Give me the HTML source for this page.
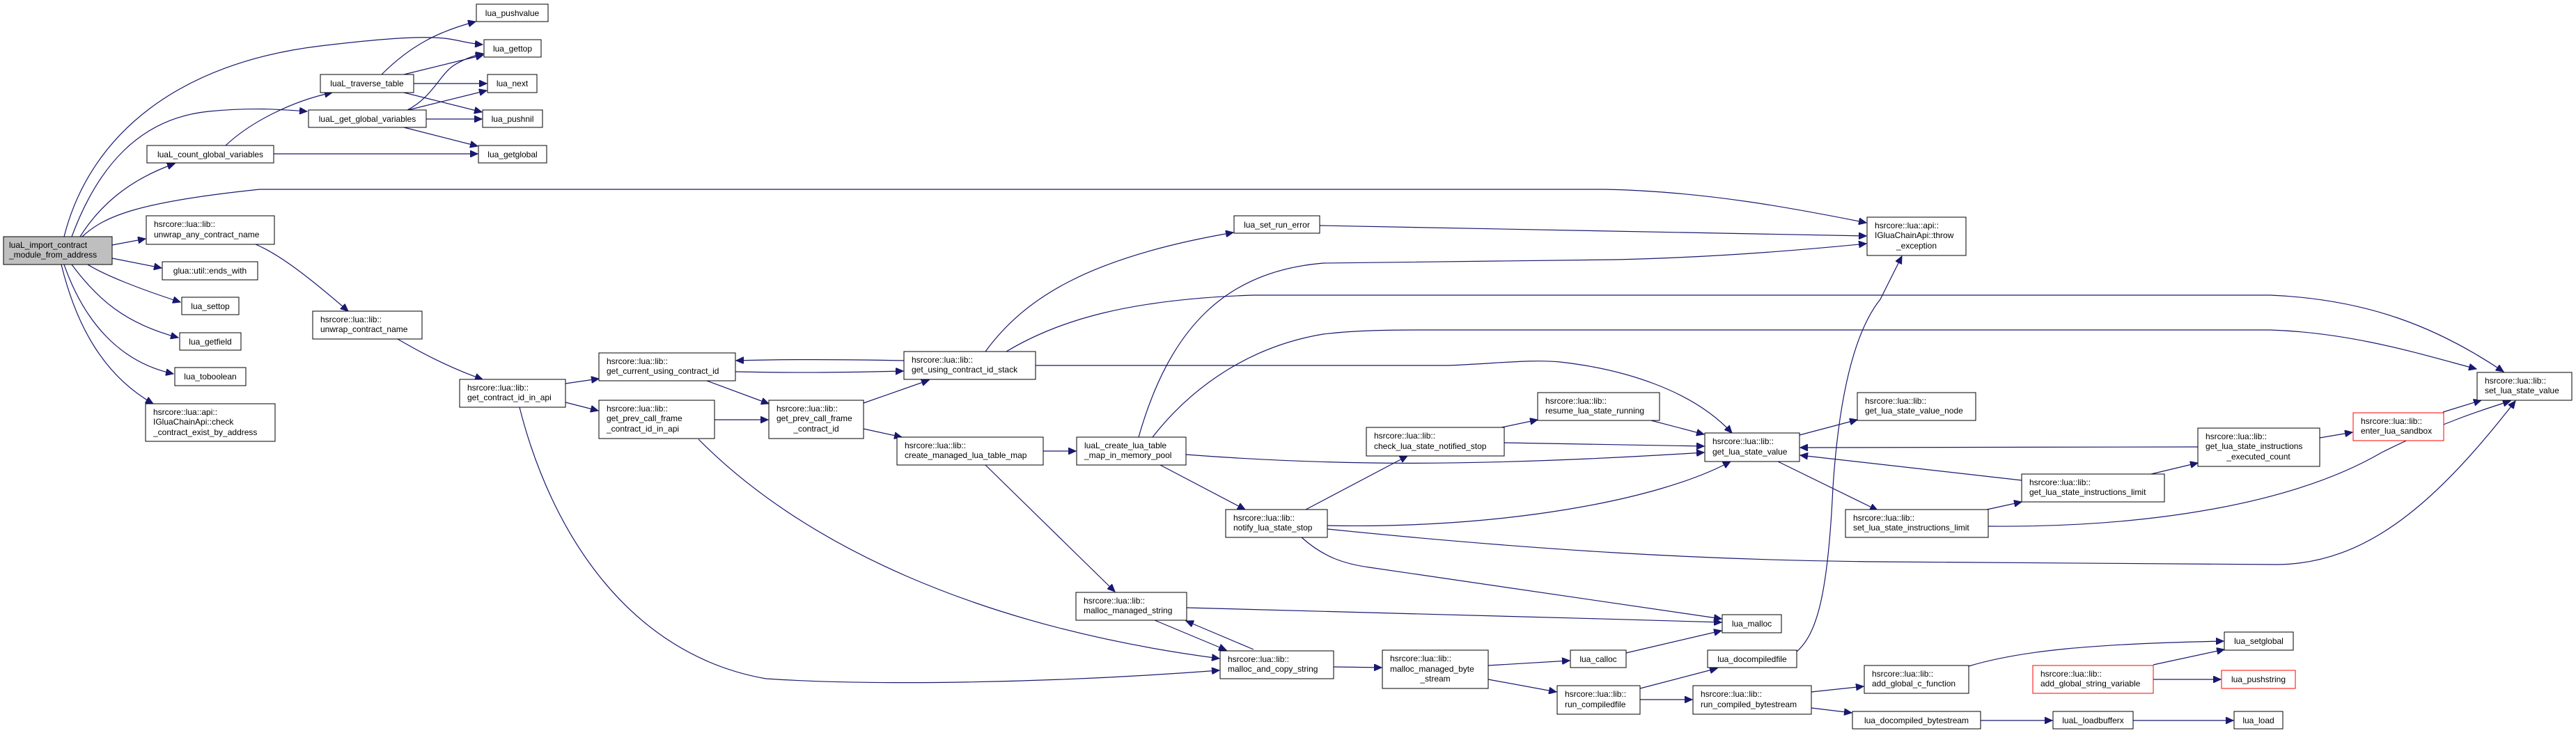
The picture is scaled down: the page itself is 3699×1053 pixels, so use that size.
<!DOCTYPE html>
<html><head><meta charset="utf-8"><style>
html,body{margin:0;padding:0;background:#fff}
svg{display:block}
text{font-family:"Liberation Sans",sans-serif;font-size:12px;fill:#000}
.n{fill:#fff;stroke:#000;stroke-width:1}
.r{fill:#fff;stroke:#f00;stroke-width:1}
.e{fill:none;stroke:#191970;stroke-width:1.2;marker-end:url(#a)}
</style></head><body>
<svg width="3699" height="1053" viewBox="0 0 3699 1053" xmlns="http://www.w3.org/2000/svg">
<defs><marker id="a" markerUnits="userSpaceOnUse" markerWidth="12" markerHeight="10" refX="11" refY="5" orient="auto"><path d="M0,0 L11,5 L0,10 z" fill="#191970" stroke="#191970"/></marker></defs>
<rect width="3699" height="1053" fill="#fff"/>
<!-- edges -->
<path class="e" d="M92,340 C130,190 260,90 460,66 S640,60 693,64"/>
<path class="e" d="M103,340 C140,240 200,170 300,160 C360,154 400,157 441,160"/>
<path class="e" d="M115,340 C140,300 180,260 251,235"/>
<path class="e" d="M118,340 C150,310 200,290 373,272 L2305,272 C2450,275 2580,300 2680,320"/>
<path class="e" d="M161,352 L209,343"/>
<path class="e" d="M161,371 L232,385"/>
<path class="e" d="M126,380 C150,395 200,415 259,434"/>
<path class="e" d="M103,380 C140,430 180,465 256,485"/>
<path class="e" d="M92,380 C120,460 170,520 249,537"/>
<path class="e" d="M88,380 C110,470 150,540 220,580"/>
<path class="e" d="M548,107 C590,65 630,45 683,31"/>
<path class="e" d="M580,107 L694,79"/>
<path class="e" d="M594,120 L699,120"/>
<path class="e" d="M580,133 L692,161"/>
<path class="e" d="M585,158 C620,140 630,110 650,95 C665,85 680,80 694,77"/>
<path class="e" d="M586,158 L699,130"/>
<path class="e" d="M612,171 L692,171"/>
<path class="e" d="M580,183 L686,210"/>
<path class="e" d="M324,209 C360,175 420,145 477,133"/>
<path class="e" d="M393,221 L686,221"/>
<path class="e" d="M367,351 C400,365 440,395 500,447"/>
<path class="e" d="M571,487 C610,510 650,530 693,545"/>
<path class="e" d="M812,551 L860,544"/>
<path class="e" d="M812,578 L859,590"/>
<path class="e" d="M746,585 C790,760 900,940 1100,975 C1250,985 1500,982 1751,963"/>
<path class="e" d="M1056,534 C1150,536 1220,535 1297,533"/>
<path class="e" d="M1298,518 C1200,516 1130,516 1057,518"/>
<path class="e" d="M1015,547 L1104,580"/>
<path class="e" d="M1026,603 L1103,603"/>
<path class="e" d="M1003,631 C1150,780 1400,900 1751,946"/>
<path class="e" d="M1240,579 L1334,546"/>
<path class="e" d="M1240,616 L1295,628"/>
<path class="e" d="M1415,505 C1470,430 1560,370 1771,334"/>
<path class="e" d="M1445,505 C1520,460 1620,430 1800,424 L3260,424 C3400,430 3500,470 3595,534"/>
<path class="e" d="M1487,525 L2080,525 C2150,522 2200,516 2240,520 C2330,530 2430,560 2487,622"/>
<path class="e" d="M1498,648 L1545,648"/>
<path class="e" d="M1415,668 L1601,850"/>
<path class="e" d="M1635,628 C1680,470 1760,390 1900,378 L2320,373 C2450,370 2580,360 2680,350"/>
<path class="e" d="M1655,628 C1700,570 1780,500 1900,480 C1950,474 2000,474 2050,474 L3260,474 C3380,478 3480,510 3556,530"/>
<path class="e" d="M1703,653 C1900,668 2100,672 2447,650"/>
<path class="e" d="M1666,668 L1788,732"/>
<path class="e" d="M1895,324 L2680,339"/>
<path class="e" d="M2156,614 L2208,603"/>
<path class="e" d="M2160,636 L2447,641"/>
<path class="e" d="M2371,604 L2447,624"/>
<path class="e" d="M2584,625 L2667,603"/>
<path class="e" d="M2553,663 L2696,733"/>
<path class="e" d="M2903,690 L2585,654"/>
<path class="e" d="M3156,642 L2585,643"/>
<path class="e" d="M3331,629 L3378,621"/>
<path class="e" d="M3508,592 L3563,575"/>
<path class="e" d="M3089,681 L3156,665"/>
<path class="e" d="M2853,732 L2903,721"/>
<path class="e" d="M2855,756 C3100,758 3300,720 3420,650 C3500,610 3560,590 3605,576"/>
<path class="e" d="M1875,732 L2021,655"/>
<path class="e" d="M1906,755 C2150,760 2380,720 2485,663"/>
<path class="e" d="M1906,760 C2200,790 2450,805 2700,807 L3270,811 C3400,810 3500,720 3612,576"/>
<path class="e" d="M1869,772 C1900,800 1930,810 1966,815 L2472,889"/>
<path class="e" d="M1704,873 C1900,878 2200,886 2472,894"/>
<path class="e" d="M1658,891 L1761,934"/>
<path class="e" d="M1800,933 L1703,892"/>
<path class="e" d="M1915,958 L1984,959"/>
<path class="e" d="M2137,956 L2254,949"/>
<path class="e" d="M2137,976 L2235,994"/>
<path class="e" d="M2335,938 L2472,906"/>
<path class="e" d="M2355,989 L2466,960"/>
<path class="e" d="M2355,1005 L2430,1005"/>
<path class="e" d="M2580,936 C2610,910 2625,850 2632,700 C2640,580 2660,480 2700,430 L2731,368"/>
<path class="e" d="M2601,994 L2676,986"/>
<path class="e" d="M2601,1017 L2659,1024"/>
<path class="e" d="M2827,957 C2900,935 3000,925 3193,921"/>
<path class="e" d="M3092,955 L3194,933"/>
<path class="e" d="M3092,976 L3189,976"/>
<path class="e" d="M2844,1035 L2947,1035"/>
<path class="e" d="M3063,1035 L3207,1035"/>
<!-- nodes -->
<rect x="5" y="340" width="156" height="40" fill="#bfbfbf" stroke="#000"/>
<text x="13" y="356">luaL_import_contract</text><text x="13" y="370">_module_from_address</text>
<rect class="n" x="684" y="6" width="103" height="25"/><text x="735.5" y="23" text-anchor="middle">lua_pushvalue</text>
<rect class="n" x="695" y="57" width="82" height="25"/><text x="736" y="74" text-anchor="middle">lua_gettop</text>
<rect class="n" x="460" y="107" width="134" height="26"/><text x="527" y="124" text-anchor="middle">luaL_traverse_table</text>
<rect class="n" x="700" y="107" width="71" height="26"/><text x="735.5" y="124" text-anchor="middle">lua_next</text>
<rect class="n" x="443" y="158" width="169" height="25"/><text x="527.5" y="175" text-anchor="middle">luaL_get_global_variables</text>
<rect class="n" x="693" y="158" width="86" height="25"/><text x="736" y="175" text-anchor="middle">lua_pushnil</text>
<rect class="n" x="211" y="209" width="182" height="25"/><text x="302" y="226" text-anchor="middle">luaL_count_global_variables</text>
<rect class="n" x="687" y="209" width="98" height="25"/><text x="736" y="226" text-anchor="middle">lua_getglobal</text>
<rect class="n" x="210" y="310" width="184" height="41"/><text x="221" y="326">hsrcore::lua::lib::</text><text x="221" y="341">unwrap_any_contract_name</text>
<rect class="n" x="233" y="376" width="137" height="26"/><text x="301.5" y="393" text-anchor="middle">glua::util::ends_with</text>
<rect class="n" x="261" y="427" width="82" height="25"/><text x="302" y="444" text-anchor="middle">lua_settop</text>
<rect class="n" x="258" y="478" width="88" height="25"/><text x="302" y="495" text-anchor="middle">lua_getfield</text>
<rect class="n" x="251" y="528" width="102" height="26"/><text x="302" y="545" text-anchor="middle">lua_toboolean</text>
<rect class="n" x="209" y="580" width="186" height="54"/><text x="220" y="596">hsrcore::lua::api::</text><text x="220" y="610">IGluaChainApi::check</text><text x="220" y="625">_contract_exist_by_address</text>
<rect class="n" x="449" y="447" width="157" height="40"/><text x="460" y="463">hsrcore::lua::lib::</text><text x="460" y="477">unwrap_contract_name</text>
<rect class="n" x="660" y="545" width="152" height="40"/><text x="671" y="561">hsrcore::lua::lib::</text><text x="671" y="575">get_contract_id_in_api</text>
<rect class="n" x="860" y="507" width="196" height="40"/><text x="871" y="523">hsrcore::lua::lib::</text><text x="871" y="537">get_current_using_contract_id</text>
<rect class="n" x="860" y="575" width="166" height="55"/><text x="871" y="591">hsrcore::lua::lib::</text><text x="871" y="605">get_prev_call_frame</text><text x="871" y="620">_contract_id_in_api</text>
<rect class="n" x="1104" y="575" width="136" height="55"/><text x="1115" y="591">hsrcore::lua::lib::</text><text x="1115" y="605">get_prev_call_frame</text><text x="1172" y="620" text-anchor="middle">_contract_id</text>
<rect class="n" x="1298" y="505" width="189" height="40"/><text x="1309" y="521">hsrcore::lua::lib::</text><text x="1309" y="535">get_using_contract_id_stack</text>
<rect class="n" x="1288" y="628" width="210" height="40"/><text x="1299" y="644">hsrcore::lua::lib::</text><text x="1299" y="658">create_managed_lua_table_map</text>
<rect class="n" x="1546" y="628" width="157" height="40"/><text x="1557" y="644">luaL_create_lua_table</text><text x="1557" y="658">_map_in_memory_pool</text>
<rect class="n" x="1772" y="310" width="123" height="25"/><text x="1833.5" y="327" text-anchor="middle">lua_set_run_error</text>
<rect class="n" x="2681" y="312" width="142" height="55"/><text x="2692" y="328">hsrcore::lua::api::</text><text x="2692" y="342">IGluaChainApi::throw</text><text x="2752" y="357" text-anchor="middle">_exception</text>
<rect class="n" x="1962" y="614" width="198" height="41"/><text x="1973" y="630">hsrcore::lua::lib::</text><text x="1973" y="645">check_lua_state_notified_stop</text>
<rect class="n" x="2208" y="564" width="175" height="40"/><text x="2219" y="580">hsrcore::lua::lib::</text><text x="2219" y="594">resume_lua_state_running</text>
<rect class="n" x="2448" y="622" width="136" height="41"/><text x="2459" y="638">hsrcore::lua::lib::</text><text x="2459" y="653">get_lua_state_value</text>
<rect class="n" x="2667" y="564" width="170" height="40"/><text x="2678" y="580">hsrcore::lua::lib::</text><text x="2678" y="594">get_lua_state_value_node</text>
<rect class="n" x="3557" y="535" width="136" height="40"/><text x="3568" y="551">hsrcore::lua::lib::</text><text x="3568" y="565">set_lua_state_value</text>
<rect class="r" x="3379" y="593" width="130" height="40"/><text x="3390" y="609">hsrcore::lua::lib::</text><text x="3390" y="623">enter_lua_sandbox</text>
<rect class="n" x="3156" y="615" width="175" height="55"/><text x="3167" y="631">hsrcore::lua::lib::</text><text x="3167" y="645">get_lua_state_instructions</text><text x="3243" y="660" text-anchor="middle">_executed_count</text>
<rect class="n" x="2903" y="681" width="205" height="40"/><text x="2914" y="697">hsrcore::lua::lib::</text><text x="2914" y="711">get_lua_state_instructions_limit</text>
<rect class="n" x="2650" y="732" width="205" height="40"/><text x="2661" y="748">hsrcore::lua::lib::</text><text x="2661" y="762">set_lua_state_instructions_limit</text>
<rect class="n" x="1760" y="732" width="146" height="40"/><text x="1771" y="748">hsrcore::lua::lib::</text><text x="1771" y="762">notify_lua_state_stop</text>
<rect class="n" x="1545" y="851" width="159" height="40"/><text x="1556" y="867">hsrcore::lua::lib::</text><text x="1556" y="881">malloc_managed_string</text>
<rect class="n" x="1752" y="935" width="163" height="40"/><text x="1763" y="951">hsrcore::lua::lib::</text><text x="1763" y="965">malloc_and_copy_string</text>
<rect class="n" x="1985" y="934" width="152" height="55"/><text x="1996" y="950">hsrcore::lua::lib::</text><text x="1996" y="965">malloc_managed_byte</text><text x="2061" y="979" text-anchor="middle">_stream</text>
<rect class="n" x="2255" y="934" width="80" height="25"/><text x="2295" y="951" text-anchor="middle">lua_calloc</text>
<rect class="n" x="2473" y="883" width="85" height="26"/><text x="2515.5" y="900" text-anchor="middle">lua_malloc</text>
<rect class="n" x="2452" y="934" width="128" height="25"/><text x="2516" y="951" text-anchor="middle">lua_docompiledfile</text>
<rect class="n" x="2236" y="985" width="119" height="41"/><text x="2247" y="1001">hsrcore::lua::lib::</text><text x="2247" y="1016">run_compiledfile</text>
<rect class="n" x="2431" y="985" width="170" height="41"/><text x="2442" y="1001">hsrcore::lua::lib::</text><text x="2442" y="1016">run_compiled_bytestream</text>
<rect class="n" x="2677" y="956" width="150" height="40"/><text x="2688" y="972">hsrcore::lua::lib::</text><text x="2688" y="986">add_global_c_function</text>
<rect class="n" x="2660" y="1022" width="184" height="25"/><text x="2752" y="1039" text-anchor="middle">lua_docompiled_bytestream</text>
<rect class="r" x="2919" y="956" width="173" height="40"/><text x="2930" y="972">hsrcore::lua::lib::</text><text x="2930" y="986">add_global_string_variable</text>
<rect class="n" x="3194" y="908" width="99" height="26"/><text x="3243.5" y="925" text-anchor="middle">lua_setglobal</text>
<rect class="r" x="3190" y="963" width="106" height="26"/><text x="3243" y="980" text-anchor="middle">lua_pushstring</text>
<rect class="n" x="2948" y="1022" width="115" height="25"/><text x="3005.5" y="1039" text-anchor="middle">luaL_loadbufferx</text>
<rect class="n" x="3208" y="1022" width="70" height="25"/><text x="3243" y="1039" text-anchor="middle">lua_load</text>
</svg>
</body></html>
